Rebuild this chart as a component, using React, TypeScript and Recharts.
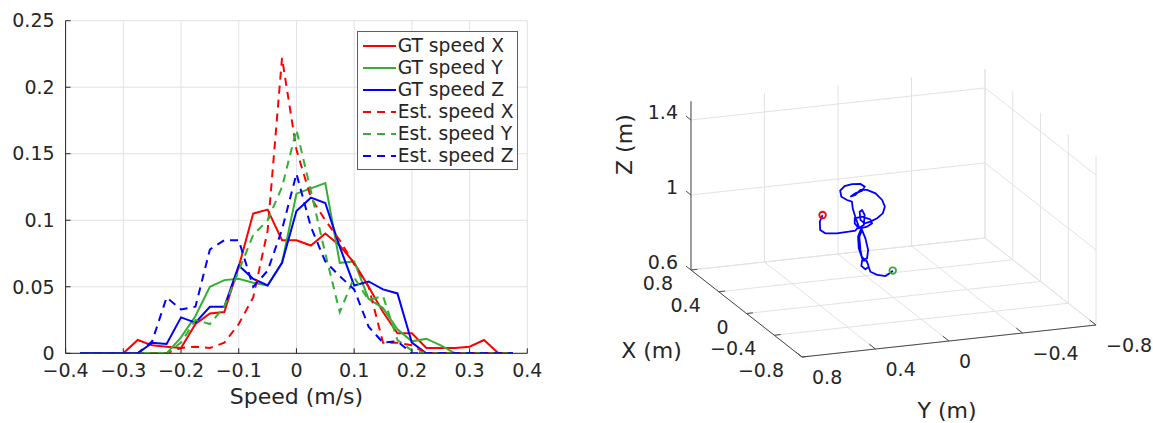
import React from 'react';
import { LineChart, Line, XAxis, YAxis, CartesianGrid, Legend, ScatterChart, Scatter } from 'recharts';

const FONT = 'DejaVu Sans, sans-serif';
const INK = '#262626';
const GRID = '#e2e2e2';

// ---------------- left panel: speed distributions ----------------
const speedBins = [-0.375, -0.35, -0.325, -0.3, -0.275, -0.25, -0.225, -0.2, -0.175, -0.15, -0.125, -0.1, -0.075, -0.05, -0.025, 0, 0.025, 0.05, 0.075, 0.1, 0.125, 0.15, 0.175, 0.2, 0.225, 0.25, 0.275, 0.3, 0.325, 0.35, 0.375];
const gtSpeedX = [0, 0, 0, 0, 0.010, 0.006, 0.005, 0.004, 0.022, 0.030, 0.031, 0.065, 0.105, 0.108, 0.085, 0.085, 0.081, 0.090, 0.081, 0.068, 0.050, 0.031, 0.015, 0.015, 0.004, 0.004, 0.004, 0.005, 0.010, 0, 0];
const gtSpeedY = [0, 0, 0, 0, 0, 0, 0, 0.012, 0.028, 0.050, 0.055, 0.056, 0.053, 0.051, 0.068, 0.120, 0.124, 0.128, 0.068, 0.069, 0.041, 0.034, 0.018, 0.009, 0.011, 0.006, 0, 0, 0, 0, 0];
const gtSpeedZ = [0, 0, 0, 0, 0, 0.008, 0.007, 0.027, 0.023, 0.035, 0.035, 0.066, 0.056, 0.051, 0.068, 0.107, 0.117, 0.113, 0.080, 0.051, 0.054, 0.048, 0.045, 0.008, 0, 0, 0, 0, 0, 0, 0];
const estSpeedX = [0, 0, 0, 0, 0, 0, 0, 0.004, 0.005, 0.004, 0.008, 0.022, 0.042, 0.092, 0.222, 0.153, 0.117, 0.100, 0.085, 0.067, 0.050, 0.008, 0.008, 0.006, 0, 0, 0, 0, 0, 0, 0];
const estSpeedY = [0, 0, 0, 0, 0, 0, 0, 0.008, 0.025, 0.022, 0.035, 0.062, 0.089, 0.100, 0.125, 0.168, 0.122, 0.075, 0.031, 0.057, 0.040, 0.043, 0.010, 0.002, 0, 0, 0, 0, 0, 0, 0];
const estSpeedZ = [0, 0, 0, 0, 0, 0.009, 0.042, 0.033, 0.035, 0.078, 0.085, 0.085, 0.050, 0.062, 0.093, 0.135, 0.095, 0.069, 0.058, 0.048, 0.020, 0.008, 0.009, 0, 0, 0, 0, 0, 0, 0, 0];

const speedTicksX = [-0.4, -0.3, -0.2, -0.1, 0, 0.1, 0.2, 0.3, 0.4];
const speedTicksY = [0, 0.05, 0.1, 0.15, 0.2, 0.25];
const speedTickLabelsY = ['0', '0.05', '0.1', '0.15', '0.2', '0.25'];

const seriesNames = ['GT speed X', 'GT speed Y', 'GT speed Z', 'Est. speed X', 'Est. speed Y', 'Est. speed Z'];
const seriesKeys = ['gtX', 'gtY', 'gtZ', 'estX', 'estY', 'estZ'];
const seriesValues = [gtSpeedX, gtSpeedY, gtSpeedZ, estSpeedX, estSpeedY, estSpeedZ];
const seriesColors = ['#ff0000', '#33b033', '#0000ff', '#ff0000', '#33b033', '#0000ff'];
const seriesDashed = [false, false, false, true, true, true];
const DASH = '8 6';

const speedData = speedBins.map((x, i) => {
  const row: Record<string, number> = { x };
  seriesKeys.forEach((k, s) => {
    row[k] = seriesValues[s][i];
  });
  return row;
});

const minusFmt = (v: number) => String(parseFloat(v.toFixed(2))).replace('-', '\u2212');
const yFmt = (v: number) => {
  const i = speedTicksY.findIndex((t) => Math.abs(t - v) < 1e-9);
  return i >= 0 ? speedTickLabelsY[i] : String(v);
};

const SpeedLegend = () => (
  <div
    style={{
      width: 161,
      height: 139,
      boxSizing: 'border-box',
      border: '1px solid #5e5e5e',
      background: '#ffffff',
      paddingTop: 3,
    }}
  >
    {seriesNames.map((name, i) => (
      <div key={name} style={{ height: 22, display: 'flex', alignItems: 'center' }}>
        <svg width={40} height={22} style={{ flex: 'none', display: 'block' }}>
          <line
            x1={5}
            x2={38}
            y1={11}
            y2={11}
            stroke={seriesColors[i]}
            strokeWidth={2}
            strokeDasharray={seriesDashed[i] ? DASH : undefined}
          />
        </svg>
        <span style={{ fontFamily: FONT, fontSize: 18.7, color: INK, whiteSpace: 'nowrap', lineHeight: '22px' }}>
          {name}
        </span>
      </div>
    ))}
  </div>
);

const tickStyle = { fontFamily: FONT, fontSize: 19, fill: INK };

// ---------------- right panel: 3D trajectory ----------------
const limX3 = [-0.8, 0.8];
const limY3 = [-0.8, 0.8];
const limZ3 = [0.6, 1.5];
const ticksX3 = [-0.8, -0.4, 0, 0.4, 0.8];
const ticksY3 = [-0.8, -0.4, 0, 0.4, 0.8];
const ticksZ3 = [0.6, 1, 1.4];

const trajX = [0, 0, 0, 0, 0, 0, 0, 0, 0, 0, 0, 0, 0, 0, 0, 0, 0, 0, 0, 0, 0, 0, 0, 0, 0, 0, 0, 0, 0, 0, 0, 0, 0, 0, 0, 0, 0, 0, 0, 0, 0, 0, 0, 0, 0, 0, 0, 0, 0, 0, 0, 0, 0, 0, 0, 0, 0, 0, 0, 0, 0, 0, 0, 0, 0, 0, 0];
const trajY = [0.386, 0.401, 0.399, 0.371, 0.308, 0.244, 0.208, 0.189, 0.208, 0.222, 0.226, 0.253, 0.284, 0.290, 0.266, 0.226, 0.180, 0.157, 0.171, 0.208, 0.235, 0.208, 0.180, 0.144, 0.098, 0.062, 0.047, 0.058, 0.089, 0.126, 0.157, 0.180, 0.184, 0.171, 0.157, 0.162, 0.189, 0.211, 0.211, 0.171, 0.126, 0.117, 0.144, 0.175, 0.193, 0.189, 0.175, 0.160, 0.144, 0.138, 0.153, 0.171, 0.186, 0.180, 0.171, 0.144, 0.135, 0.153, 0.175, 0.171, 0.149, 0.138, 0.126, 0.089, 0.044, 0.011, 0.004];
const trajZ = [1.081, 1.047, 1.003, 0.982, 0.975, 0.977, 0.979, 0.998, 1.053, 1.099, 1.135, 1.147, 1.168, 1.201, 1.223, 1.229, 1.225, 1.208, 1.188, 1.178, 1.163, 1.169, 1.193, 1.189, 1.166, 1.127, 1.090, 1.055, 1.032, 1.018, 1.012, 1.033, 1.077, 1.085, 1.057, 1.004, 0.989, 1.018, 1.045, 1.049, 1.030, 1.008, 0.993, 0.988, 0.945, 0.883, 0.840, 0.821, 0.824, 0.868, 0.932, 0.978, 0.944, 0.873, 0.827, 0.807, 0.779, 0.767, 0.787, 0.815, 0.816, 0.788, 0.751, 0.730, 0.719, 0.737, 0.744];

// view (orthographic projection into page pixels)
const VIEW = { ox: 893.5, oy: 410, ex: [-69.4, -54.4], ey: [-183.75, 20], ez: [0, -187.5] };
const proj = (X: number, Y: number, Z: number) => ({
  px: VIEW.ox + VIEW.ex[0] * X + VIEW.ey[0] * Y + VIEW.ez[0] * Z,
  py: VIEW.oy + VIEW.ex[1] * X + VIEW.ey[1] * Y + VIEW.ez[1] * Z,
});

const [x0, x1] = limX3;
const [y0, y1] = limY3;
const [z0, z1] = limZ3;

const gridSegs: { px: number; py: number }[][] = [];
ticksX3.forEach((x) => {
  gridSegs.push([proj(x, y1, z0), proj(x, y0, z0)]);
  gridSegs.push([proj(x, y0, z0), proj(x, y0, z1)]);
});
ticksY3.forEach((y) => {
  gridSegs.push([proj(x1, y, z0), proj(x0, y, z0)]);
  gridSegs.push([proj(x1, y, z0), proj(x1, y, z1)]);
});
ticksZ3.forEach((z) => {
  gridSegs.push([proj(x1, y1, z), proj(x1, y0, z)]);
  gridSegs.push([proj(x1, y0, z), proj(x0, y0, z)]);
});

const axisSegs = [
  [proj(x1, y1, z0), proj(x1, y1, z1)],
  [proj(x1, y1, z0), proj(x0, y1, z0)],
  [proj(x0, y1, z0), proj(x0, y0, z0)],
];
const tickSegs: { px: number; py: number }[][] = [];
ticksX3.forEach((x) => tickSegs.push([proj(x, y1, z0), proj(x, y1 - 0.035, z0)]));
ticksY3.forEach((y) => tickSegs.push([proj(x0, y, z0), proj(x0 + 0.09, y, z0)]));
ticksZ3.forEach((z) => tickSegs.push([proj(x1, y1, z), proj(x1 + 0.07, y1, z)]));

const trajData = trajX.map((x, i) => proj(x, trajY[i], trajZ[i]));
const startData = [trajData[0]];
const endData = [trajData[trajData.length - 1]];

const xLabelData = ticksX3.map((x) => ({ ...proj(x, y1, z0), label: minusFmt(x) }));
const yLabelData = ticksY3.map((y) => ({ ...proj(x0, y, z0), label: minusFmt(y) }));
const zLabelData = ticksZ3.map((z) => ({ ...proj(x1, y1, z), label: minusFmt(z) }));
const xTitleData = [{ ...proj(0, y1, z0), label: 'X (m)' }];
const yTitleData = [{ ...proj(x0, 0, z0), label: 'Y (m)' }];
const zTitleData = [{ ...proj(x1, y1, (z0 + z1) / 2), label: 'Z (m)' }];

const noShape = () => <g />;

const textShape = (anchor: 'start' | 'middle' | 'end', dx: number, dy: number, size: number, rotate = false) =>
  (p: any) => {
    const x = p.cx + dx;
    const y = p.cy + dy;
    return (
      <text
        x={x}
        y={y}
        textAnchor={anchor}
        dominantBaseline="central"
        transform={rotate ? `rotate(-90, ${x}, ${y})` : undefined}
        style={{ fontFamily: FONT, fontSize: size, fill: INK }}
      >
        {p.payload.label}
      </text>
    );
  };

const circleShape = (color: string) => (p: any) => (
  <circle cx={p.cx} cy={p.cy} r={3.3} fill="none" stroke={color} strokeWidth={1.8} />
);

export default function App() {
  return (
    <div style={{ position: 'absolute', left: 0, top: 0, width: 1153, height: 423, background: '#ffffff', overflow: 'hidden' }}>
      <div style={{ position: 'absolute', left: 0, top: 0 }}>
        <LineChart width={560} height={423} data={speedData} margin={{ top: 20.7, right: 32.7, bottom: 48.7, left: 5.6 }}>
          <CartesianGrid stroke={GRID} strokeWidth={1} />
          <XAxis
            type="number"
            dataKey="x"
            domain={[-0.4, 0.4]}
            ticks={speedTicksX}
            interval={0}
            allowDataOverflow
            tickFormatter={minusFmt}
            tickSize={-5}
            tickMargin={15}
            height={21}
            stroke={INK}
            tick={tickStyle}
            label={{ value: 'Speed (m/s)', position: 'bottom', offset: 14, style: { fontFamily: FONT, fontSize: 22, fill: INK } }}
          />
          <YAxis
            type="number"
            domain={[0, 0.25]}
            ticks={speedTicksY}
            interval={0}
            allowDataOverflow
            tickFormatter={yFmt}
            tickSize={-5}
            tickMargin={16}
            width={60}
            stroke={INK}
            tick={tickStyle}
          />
          {seriesKeys.map((k, i) => (
            <Line
              key={k}
              type="linear"
              dataKey={k}
              name={seriesNames[i]}
              stroke={seriesColors[i]}
              strokeWidth={2}
              strokeDasharray={seriesDashed[i] ? DASH : undefined}
              dot={false}
              activeDot={false}
              isAnimationActive={false}
            />
          ))}
          <Legend
            layout="vertical"
            align="center"
            verticalAlign="middle"
            content={() => <SpeedLegend />}
            wrapperStyle={{ left: 356.7, top: 30.7, width: 161, height: 139 }}
          />
        </LineChart>
      </div>

      <div style={{ position: 'absolute', left: 560, top: 0 }}>
        <ScatterChart width={593} height={423} margin={{ top: 0, right: 0, bottom: 0, left: 0 }}>
          <XAxis type="number" dataKey="px" domain={[560, 1153]} hide allowDataOverflow />
          <YAxis type="number" dataKey="py" domain={[0, 423]} reversed hide allowDataOverflow />
          {gridSegs.map((seg, i) => (
            <Scatter key={`g${i}`} data={seg} line={{ stroke: GRID, strokeWidth: 1 }} fill={GRID} shape={noShape} isAnimationActive={false} />
          ))}
          {axisSegs.map((seg, i) => (
            <Scatter key={`a${i}`} data={seg} line={{ stroke: '#4a4a4a', strokeWidth: 1 }} fill="#4a4a4a" shape={noShape} isAnimationActive={false} />
          ))}
          {tickSegs.map((seg, i) => (
            <Scatter key={`t${i}`} data={seg} line={{ stroke: '#4a4a4a', strokeWidth: 1 }} fill="#4a4a4a" shape={noShape} isAnimationActive={false} />
          ))}
          <Scatter data={trajData} line={{ stroke: '#0000ff', strokeWidth: 1.8 }} fill="#0000ff" shape={noShape} isAnimationActive={false} />
          <Scatter data={startData} fill="#ff0000" shape={circleShape('#ff0000')} isAnimationActive={false} />
          <Scatter data={endData} fill="#33b033" shape={circleShape('#33b033')} isAnimationActive={false} />
          <Scatter data={xLabelData} fill={INK} shape={textShape('end', -18, 13, 19)} isAnimationActive={false} />
          <Scatter data={yLabelData} fill={INK} shape={textShape('start', 10, 20, 19)} isAnimationActive={false} />
          <Scatter data={zLabelData} fill={INK} shape={textShape('end', -13, -8, 19)} isAnimationActive={false} />
          <Scatter data={xTitleData} fill={INK} shape={textShape('middle', -95, 36.5, 22)} isAnimationActive={false} />
          <Scatter data={yTitleData} fill={INK} shape={textShape('middle', -2, 69, 22)} isAnimationActive={false} />
          <Scatter data={zTitleData} fill={INK} shape={textShape('middle', -66, -41, 22, true)} isAnimationActive={false} />
        </ScatterChart>
      </div>
    </div>
  );
}
